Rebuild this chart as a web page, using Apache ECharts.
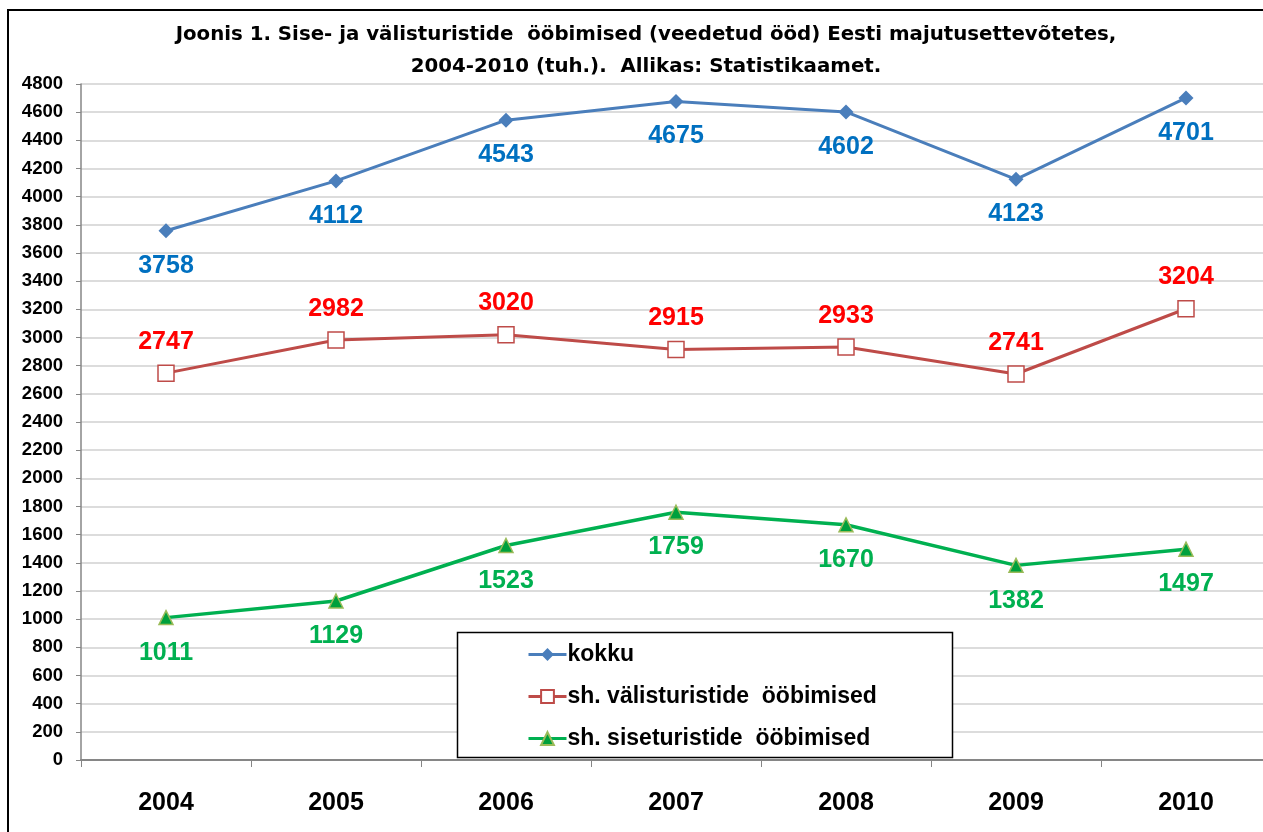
<!DOCTYPE html>
<html>
<head>
    <meta charset="utf-8">
    <title>ECharts</title>
    <script src="https://cdn.jsdelivr.net/npm/echarts@6/dist/echarts.min.js"></script>
    <style>
        html, body {
            width: 100%;
            height: 100%;
            margin: 0;
            background: #fff;
        }
    </style>
</head>
<body>
    <div id="main" style="width: 1263px;height:832px;"></div>
    <script type="text/javascript">
        // andmed
        var years = ['2004', '2005', '2006', '2007', '2008', '2009', '2010'];
        var kokku = [3758, 4112, 4543, 4675, 4602, 4123, 4701];
        var valis = [2747, 2982, 3020, 2915, 2933, 2741, 3204];
        var sise = [1011, 1129, 1523, 1759, 1670, 1382, 1497];

        var font = "'Liberation Sans', Arial, sans-serif";

        var myChart = echarts.init(document.getElementById('main'));

        function dataLabel(pos, color, dist) {
            return {
                show: true,
                position: pos,
                distance: dist,
                color: color,
                fontFamily: font,
                fontWeight: 'bold',
                fontSize: 25
            };
        }

        var option = {
            animation: false,
            backgroundColor: '#fff',
            title: {
                text: 'Joonis 1. Sise- ja välisturistide  ööbimised (veedetud ööd) Eesti majutusettevõtetes,\n2004-2010 (tuh.).  Allikas: Statistikaamet.',
                left: 641,
                textAlign: 'center',
                top: 14,
                textStyle: {
                    fontFamily: "'DejaVu Sans', sans-serif",
                    fontWeight: 'bold',
                    fontSize: 19.8,
                    lineHeight: 32,
                    color: '#000'
                }
            },
            graphic: [{
                type: 'rect',
                shape: { x: 8, y: 10, width: 1300, height: 900 },
                style: { fill: null, stroke: '#000', lineWidth: 2 },
                silent: true
            }, {
                type: 'rect',
                shape: { x: 457.5, y: 632.5, width: 495, height: 125 },
                style: { fill: '#fff', stroke: '#000', lineWidth: 1.5 },
                z: 10,
                silent: true
            }],
            legend: {
                orient: 'vertical',
                left: 527,
                top: 643,
                padding: 0,
                itemWidth: 38,
                itemHeight: 16,
                itemGap: 19,
                z: 20,
                lineStyle: { width: 3 },
                textStyle: {
                    fontFamily: font,
                    fontWeight: 'bold',
                    fontSize: 23,
                    color: '#000',
                    padding: [0, 0, 0, -4]
                },
                data: ['kokku', 'sh. välisturistide  ööbimised', 'sh. siseturistide  ööbimised']
            },
            grid: {
                left: 81,
                top: 84,
                right: -8,
                bottom: 72,
                outerBoundsMode: 'none'
            },
            xAxis: {
                type: 'category',
                data: years,
                boundaryGap: true,
                axisLine: { lineStyle: { color: '#868686', width: 2 } },
                axisTick: { show: true, length: 7, lineStyle: { color: '#868686' } },
                axisLabel: {
                    margin: 31,
                    color: '#000',
                    fontFamily: font,
                    fontWeight: 'bold',
                    fontSize: 25
                }
            },
            yAxis: {
                type: 'value',
                min: 0,
                max: 4800,
                interval: 200,
                axisLine: { show: true, lineStyle: { color: '#868686', width: 1.5 } },
                axisTick: { show: true, length: 5, lineStyle: { color: '#868686' } },
                splitLine: { show: true, lineStyle: { color: '#d0d0d0', width: 1.5 } },
                axisLabel: {
                    margin: 18,
                    color: '#000',
                    fontFamily: font,
                    fontWeight: 'bold',
                    fontSize: 18.5,
                    formatter: function (v) { return String(v); }
                }
            },
            series: [{
                name: 'kokku',
                type: 'line',
                data: kokku,
                symbol: 'diamond',
                symbolSize: 15,
                lineStyle: { color: '#4A7EBB', width: 3 },
                itemStyle: { color: '#4A7EBB' },
                label: dataLabel('bottom', '#0070C0', 15)
            }, {
                name: 'sh. välisturistide  ööbimised',
                type: 'line',
                data: valis,
                symbol: 'rect',
                symbolSize: 16,
                lineStyle: { color: '#BE4B48', width: 3 },
                itemStyle: { color: '#fff', borderColor: '#BE4B48', borderWidth: 1.5 },
                label: dataLabel('top', '#FF0000', 10)
            }, {
                name: 'sh. siseturistide  ööbimised',
                type: 'line',
                data: sise,
                symbol: 'triangle',
                symbolSize: 14,
                lineStyle: { color: '#00B050', width: 3.5 },
                itemStyle: { color: '#00A03C', borderColor: '#9BBB59', borderWidth: 1.5 },
                label: dataLabel('bottom', '#00B050', 15)
            }]
        };

        myChart.setOption(option);
    </script>
</body>
</html>
